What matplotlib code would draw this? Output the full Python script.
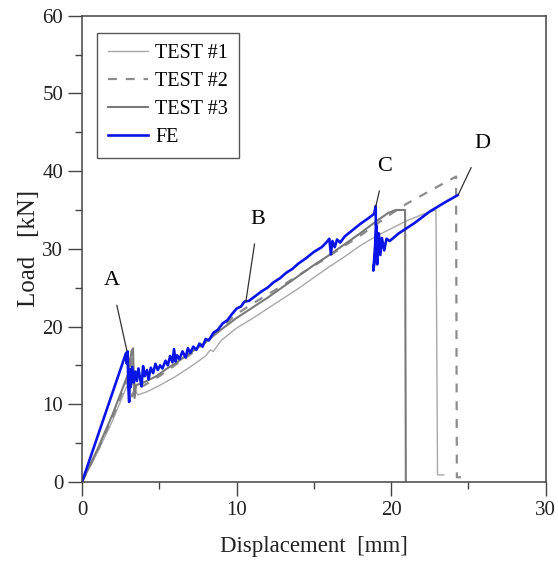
import matplotlib
matplotlib.use("Agg")
import matplotlib.pyplot as plt
from matplotlib.ticker import MultipleLocator

plt.rcParams['font.family'] = ['Liberation Serif', 'DejaVu Serif']

# TEST #1 (thin light grey)
t1_x = [0, 1, 2, 3.0, 3.3, 3.45, 3.6, 4.2, 5, 6, 7, 8, 8.3, 8.5, 9, 10, 11, 12, 13, 14,
        15, 16, 17, 18, 19, 20, 21, 22, 22.9, 23.0, 23.4]
t1_y = [0, 3.8, 8.0, 12.8, 15.8, 11.8, 11.2, 11.6, 12.4, 13.5, 14.8, 16.2, 17.0, 16.8, 18.2,
        19.8, 21.0, 22.3, 23.6, 24.9, 26.3, 27.7, 29.0, 30.4, 31.6, 32.6, 33.6, 34.4, 35.0, 0.9, 0.9]

# TEST #2 (dashed)
t2_x = [0, 1, 2, 2.9, 3.15, 3.25, 3.4, 4, 5, 6, 7, 8, 9, 10, 11, 12, 13, 14, 15, 16, 17,
        18, 19, 20, 21, 22, 23, 24.2, 24.25, 24.6]
t2_y = [0, 4.0, 8.4, 13.0, 16.5, 11.0, 12.0, 12.4, 13.6, 15.0, 16.4, 18.0, 19.8, 21.6, 22.9,
        24.1, 25.3, 26.6, 27.8, 29.1, 30.4, 31.7, 33.1, 34.5, 35.8, 36.9, 38.0, 39.3, 0.6, 0.6]

# TEST #3 (darker grey)
t3_x = [0, 1, 2, 3.0, 3.2, 3.3, 3.35, 3.4, 3.5, 3.8, 4.2, 4.8, 5.5, 6, 7, 8, 9, 10, 11, 12,
        13, 14, 15, 16, 17, 18, 19, 19.8, 20.3, 20.9, 20.95]
t3_y = [0, 4.2, 8.8, 14.0, 16.8, 17.2, 13.0, 10.8, 12.5, 12.6, 13.0, 13.6, 14.6, 15.2, 16.6,
        18.0, 19.6, 21.1, 22.4, 23.7, 25.1, 26.5, 27.9, 29.2, 30.6, 32.0, 33.5, 34.6, 35.0, 35.0, 0]

# FE (blue)
fe_x = [0, 2.85, 2.9, 2.95, 3.0, 3.05, 3.1, 3.15, 3.25, 3.35, 3.45, 3.55, 3.65, 3.75, 3.85,
        3.95, 4.05, 4.2, 4.3, 4.45, 4.6, 4.75, 4.9, 5.05, 5.2, 5.4, 5.55, 5.7, 5.85, 5.95,
        6.05, 6.15, 6.3, 6.5, 6.7, 6.85, 7.0, 7.2, 7.4, 7.6, 7.8, 8.0, 8.2, 8.5, 8.8, 9.1,
        9.4, 9.7, 10.0, 10.3, 10.5, 10.8, 11.2, 11.6, 12.0, 12.4, 12.8, 13.2, 13.6, 14.0,
        14.5, 15.0, 15.5, 15.8, 16.0, 16.1, 16.2, 16.35, 16.5, 16.7, 17.0, 17.5, 18.0, 18.5,
        18.9, 19.0, 19.02, 18.85, 19.05, 19.1, 19.2, 19.3, 19.4, 19.55, 19.7, 19.9, 20.5,
        21.5, 22.5, 23.5, 24.3]
fe_y = [0, 16.6, 15.2, 16.8, 12.0, 10.3, 14.5, 12.2, 14.8, 12.8, 14.2, 13.0, 14.6, 13.4, 12.3,
        14.9, 13.6, 14.4, 13.2, 14.7, 14.0, 15.2, 14.4, 15.0, 14.6, 15.6, 15.0, 16.2, 15.4, 17.1,
        15.5, 16.3, 15.8, 16.8, 16.0, 17.2, 16.6, 17.4, 17.0, 17.8, 17.4, 18.4, 18.2, 19.2, 19.6,
        20.4, 20.8, 21.6, 22.3, 22.6, 23.2, 23.3, 23.9, 24.5, 25.0, 25.7, 26.2, 26.9, 27.4, 28.1,
        28.8, 29.6, 30.2, 30.8, 31.3, 29.3, 31.0, 30.2, 31.2, 30.8, 31.6, 32.4, 33.2, 33.9,
        34.5, 35.5, 30.0, 27.2, 33.0, 28.0, 32.0, 29.2, 31.4, 29.8, 31.3, 31.0, 32.0,
        33.3, 34.8, 36.0, 36.9]

# point labels
labels = ['A', 'B', 'C', 'D']
label_pts = [(2.9, 16.9), (10.6, 23.2), (19.0, 35.4), (24.35, 37.0)]
label_txt = [(1.9, 25.9), (11.4, 33.8), (19.6, 40.6), (25.9, 43.5)]

fig = plt.figure(figsize=(5.58, 5.61), dpi=100)
ax = fig.add_axes([0.147, 0.141, 0.831, 0.831])

ax.plot(t1_x, t1_y, color='#a8a8a8', lw=1.0, label='TEST #1')
ax.plot(t2_x, t2_y, color='#8c8c8c', lw=1.6, dashes=(4, 4), label='TEST #2')
ax.plot(t3_x, t3_y, color='#7a7a7a', lw=1.5, label='TEST #3')
ax.plot(fe_x, fe_y, color='#0a14e6', lw=1.9, label='FE')

for lab, p, t in zip(labels, label_pts, label_txt):
    ax.annotate(lab, xy=p, xytext=t, fontsize=16, ha='center', va='center',
                arrowprops=dict(arrowstyle='-', color='#333333', lw=0.9, shrinkA=9, shrinkB=0))

ax.set_xlim(0, 30)
ax.set_ylim(0, 60)
ax.xaxis.set_major_locator(MultipleLocator(10))
ax.xaxis.set_minor_locator(MultipleLocator(5))
ax.yaxis.set_major_locator(MultipleLocator(10))
ax.yaxis.set_minor_locator(MultipleLocator(5))
ax.tick_params(which='major', direction='out', length=10, width=1, colors='#444444',
               labelsize=15, labelcolor='#222222')
ax.tick_params(which='minor', direction='out', length=5, width=1, colors='#444444')
for s in ax.spines.values():
    s.set_color('#444444')
    s.set_linewidth(1.1)

ax.set_xlabel('Displacement  [mm]', fontsize=16.5, color='#222222', labelpad=12)
ax.set_ylabel('Load   [kN]', fontsize=18, color='#222222', labelpad=2)

leg = ax.legend(loc='upper left', bbox_to_anchor=(0.01, 0.985), fontsize=14.5, handlelength=2.0,
                handletextpad=0.35, labelspacing=0.45, borderpad=0.55, fancybox=False,
                framealpha=1, edgecolor='#555555')
leg.get_frame().set_linewidth(1.0)

fig.savefig('out.png', dpi=100)
